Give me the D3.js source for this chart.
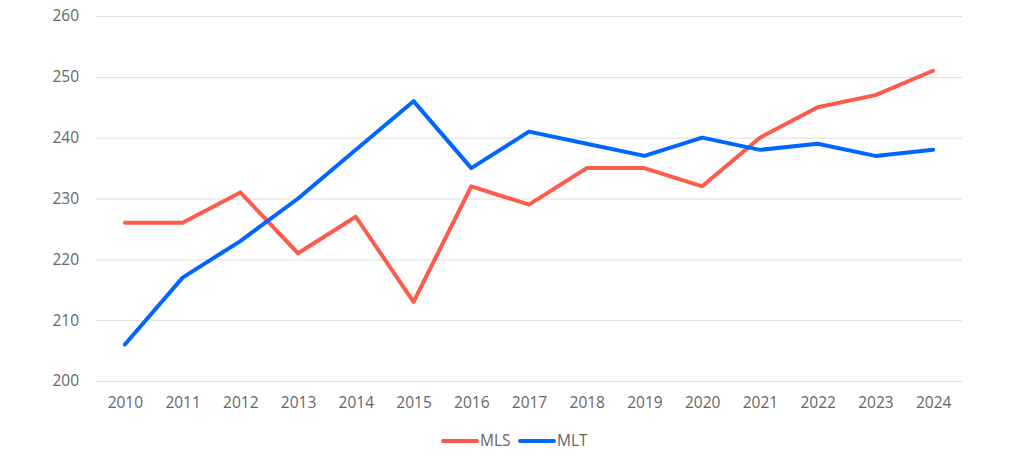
<!DOCTYPE html>
<html><head><meta charset="utf-8">
<script src="https://cdn.jsdelivr.net/npm/d3@7"></script>
<style>body{margin:0;background:#fff}svg{display:block}</style>
</head><body><svg id="c" width="1024" height="460"></svg>
<script>
const years = ["2010","2011","2012","2013","2014","2015","2016","2017","2018","2019","2020","2021","2022","2023","2024"];
const mls = [226,226,231,221,227,213,232,229,235,235,232,240,245,247,251];
const mlt = [206,217,223,230,238,246,235,241,239,237,240,238,239,237,238];
const yTicks = [200,210,220,230,240,250,260];
const seriesNames = ["MLS","MLT"];
const colors = ["#FF5B4B","#0066FF"];

const svg = d3.select("#c");
const font = "'Open Sans', 'Noto Sans', sans-serif";
const fs = "15.5px";
const x = d3.scalePoint().domain(years).range([96,962]).padding(0.5);
const y = d3.scaleLinear().domain([200,260]).range([381,16]);

const yAxis = svg.append("g").attr("transform","translate(96,0)")
  .call(d3.axisLeft(y).tickValues(yTicks).tickSize(-866).tickPadding(17));
yAxis.select(".domain").remove();
yAxis.selectAll("line").attr("stroke","#dedede").attr("stroke-width",1);
yAxis.selectAll("text").attr("fill","#666").style("font-family",font).style("font-size",fs);

const xAxis = svg.append("g").attr("transform","translate(0,381)")
  .call(d3.axisBottom(x).tickSize(0).tickPadding(16));
xAxis.select(".domain").remove();
xAxis.selectAll("text").attr("fill","#666").style("font-family",font).style("font-size",fs);

const line = d3.line().x((d,i)=>x(years[i])).y(d=>y(d));
[mls,mlt].forEach((s,k)=>{
  svg.append("path").datum(s).attr("d",line).attr("fill","none")
    .attr("stroke",colors[k]).attr("stroke-width",4)
    .attr("stroke-linecap","round").attr("stroke-linejoin","round");
});

const lg = svg.append("g");
const legendX = [443,520];
seriesNames.forEach((n,k)=>{
  lg.append("line").attr("x1",legendX[k]).attr("x2",legendX[k]+34).attr("y1",441).attr("y2",441)
    .attr("stroke",colors[k]).attr("stroke-width",4).attr("stroke-linecap","round");
  lg.append("text").attr("x",legendX[k]+37).attr("y",446).text(n)
    .attr("fill","#666").style("font-family",font).style("font-size",fs);
});
</script></body></html>
